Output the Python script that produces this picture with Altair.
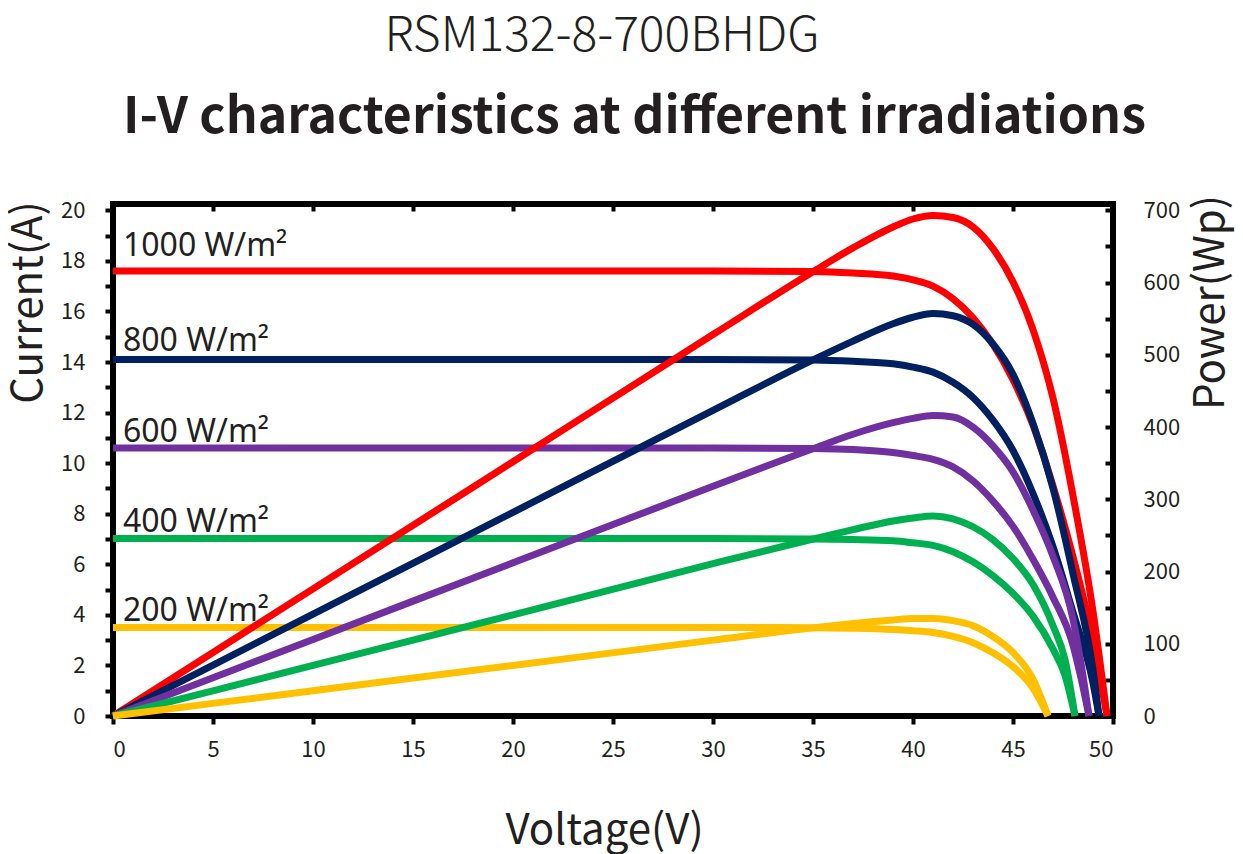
import pandas as pd
import altair as alt

FONT = "Noto Sans CJK SC"
LABEL_FONT = "Noto Sans"
INK = "#231f20"

irradiance = ["1000", "800", "600", "400", "200"]
line_colors = ["#ff0000", "#002060", "#7030a0", "#00b050", "#ffc000"]
label_texts = ["1000 W/m²", "800 W/m²", "600 W/m²", "400 W/m²", "200 W/m²"]
label_current = [18.19, 14.44, 10.84, 7.28, 3.77]

# voltage (V), current (A) and power (Wp)
volt_1000 = [0, 10, 20, 30, 35, 37, 39, 40, 41, 42, 43, 44, 45, 46, 47, 48, 49, 49.7]
amp_1000 = [17.6, 17.6, 17.6, 17.6, 17.58, 17.52, 17.4, 17.25, 17.0, 16.5, 15.75, 14.7, 13.3, 11.5, 9.1, 6.3, 3.0, 0]
watt_1000 = [0, 176, 352, 528, 615, 648, 677, 688, 693, 690, 677, 647, 601, 535, 440, 305, 145, 0]

volt_800 = [0, 10, 20, 30, 35, 37, 39, 40, 41, 42, 43, 44, 45, 46, 47, 48, 49, 49.3]
amp_800 = [14.1, 14.1, 14.1, 14.1, 14.08, 14.03, 13.93, 13.8, 13.6, 13.2, 12.6, 11.7, 10.5, 8.8, 6.7, 4.1, 1.3, 0]
watt_800 = [0, 141, 282, 423, 493, 519, 543, 552, 557, 554, 542, 515, 473, 405, 315, 197, 64, 0]

volt_600 = [0, 10, 20, 30, 35, 37, 39, 40, 41, 42, 43, 44, 45, 46, 47, 48, 48.4, 48.8]
amp_600 = [10.6, 10.6, 10.6, 10.6, 10.58, 10.54, 10.42, 10.3, 10.15, 9.85, 9.3, 8.5, 7.5, 6.2, 4.7, 2.8, 1.5, 0]
watt_600 = [0, 106, 212, 318, 370, 390, 406, 412, 416, 414, 400, 374, 338, 285, 221, 134, 73, 0]

volt_400 = [0, 10, 20, 30, 35, 37, 39, 40, 41, 42, 43, 44, 45, 46, 47, 47.6, 48.1]
amp_400 = [7.02, 7.02, 7.02, 7.02, 7.0, 6.98, 6.93, 6.85, 6.75, 6.5, 6.1, 5.55, 4.85, 3.95, 2.65, 1.6, 0]
watt_400 = [0, 70, 140, 211, 245, 258, 270, 274, 277, 273, 262, 244, 218, 182, 125, 78, 0]

volt_200 = [0, 10, 20, 30, 35, 37, 39, 40, 41, 42, 43, 44, 45, 46, 46.75]
amp_200 = [3.5, 3.5, 3.5, 3.5, 3.49, 3.47, 3.42, 3.37, 3.3, 3.15, 2.9, 2.5, 1.95, 1.1, 0]
watt_200 = [0, 35, 70, 105, 122, 128, 133, 135, 135, 132, 125, 110, 88, 51, 0]

volt_ticks = list(range(0, 51, 5))
current_ticks = list(range(0, 21))
power_ticks = list(range(0, 701, 50))

curves = {
    "1000": (volt_1000, amp_1000, watt_1000),
    "800": (volt_800, amp_800, watt_800),
    "600": (volt_600, amp_600, watt_600),
    "400": (volt_400, amp_400, watt_400),
    "200": (volt_200, amp_200, watt_200),
}

rows = []
for key, (v, a, w) in curves.items():
    for vi, ai, wi in zip(v, a, w):
        rows.append({"irr": key, "V": vi, "I": ai, "P": wi})
df = pd.DataFrame(rows)

labels = pd.DataFrame({"irr": irradiance, "text": label_texts,
                       "V": [0.5] * 5, "I": label_current})

color = alt.Color("irr:N", scale=alt.Scale(domain=irradiance, range=line_colors), legend=None)
v_scale = alt.Scale(domain=[0, 50], nice=False, zero=False)
i_scale = alt.Scale(domain=[0, 20.25], nice=False)
p_scale = alt.Scale(domain=[0, 708.75], nice=False)

tick_style = dict(tickColor="black", tickWidth=4, domain=False, grid=False,
                  labelFont=FONT, labelFontSize=22, labelColor=INK,
                  titleFont=FONT, titleFontSize=42, titleFontWeight="normal", titleColor=INK)

# I-V curves, left and bottom axes
iv = alt.Chart(df).mark_line(strokeWidth=7, interpolate="monotone").encode(
    x=alt.X("V:Q", scale=v_scale, axis=alt.Axis(
        orient="bottom", values=volt_ticks, tickSize=8, labelPadding=15,
        title="Voltage(V)", titleX=491, titleY=127, titleAngle=0,
        titleAlign="center", titleBaseline="alphabetic", **tick_style)),
    y=alt.Y("I:Q", scale=i_scale, axis=alt.Axis(
        orient="left", values=current_ticks, tickSize=8, labelPadding=20,
        labelExpr="datum.value % 2 == 0 ? datum.label : ''",
        title="Current(A)", titleX=-85, titleY=98, titleAngle=270,
        titleAlign="center", titleBaseline="middle", **tick_style)),
    color=color,
    detail="irr:N",
)

# power curves, right axis; top axis carries the subtitle
pv = alt.Chart(df).mark_line(strokeWidth=7, interpolate="monotone").encode(
    x=alt.X("V:Q", scale=v_scale, axis=alt.Axis(
        orient="top", values=volt_ticks, tickSize=7, offset=-7, labels=False,
        title="I-V characteristics at different irradiations",
        titleX=521, titleY=-79, titleAngle=0, titleAlign="center",
        titleBaseline="alphabetic", tickColor="black", tickWidth=4,
        domain=False, grid=False, titleFont=FONT, titleFontSize=50,
        titleFontWeight="bold", titleColor=INK)),
    y=alt.Y("P:Q", scale=p_scale, axis=alt.Axis(
        orient="right", values=power_ticks, tickSize=8, offset=-8, labelPadding=30,
        labelExpr="datum.value % 100 == 0 ? datum.label : ''",
        title="Power(Wp)", titleX=105, titleY=98, titleAngle=270,
        titleAlign="center", titleBaseline="middle", **tick_style)),
    color=color,
    detail="irr:N",
)

text = alt.Chart(labels).mark_text(
    align="left", baseline="alphabetic", font=LABEL_FONT, fontSize=32, color=INK
).encode(
    x=alt.X("V:Q", scale=v_scale, axis=None),
    y=alt.Y("I:Q", scale=i_scale, axis=None),
    text="text:N",
)

chart = alt.layer(iv, pv, text).resolve_scale(
    x="independent", y="independent"
).properties(
    width=1000,
    height=512,
    padding={"left": 105, "top": 196, "right": 122, "bottom": 138},
    autosize=alt.AutoSizeParams(type="none"),
    title=alt.TitleParams(
        "RSM132-8-700BHDG", font=FONT, fontSize=48, fontWeight=300,
        color=INK, anchor="middle", dx=-11, offset=31,
    ),
).configure_view(
    stroke="black", strokeWidth=6
)

chart.save("out.html", embed_options={"renderer": "svg", "actions": False})
